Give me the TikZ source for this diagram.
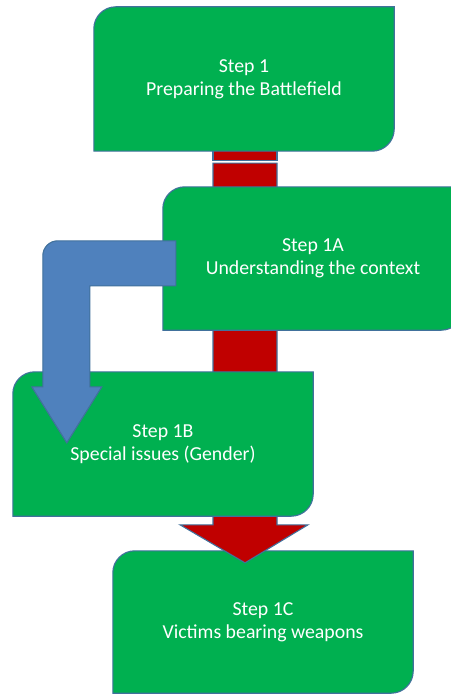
\documentclass[tikz,border=0pt]{standalone}
\usepackage{fontspec}
\setmainfont{Carlito}
\usetikzlibrary{calc}
\definecolor{boxgreen}{HTML}{00B050}
\definecolor{edgeblue}{HTML}{41719C}
\definecolor{arrowblue}{HTML}{4F81BD}
\definecolor{arrowred}{HTML}{C00000}
\pgfdeclarelayer{lA}
\pgfdeclarelayer{lB}
\pgfdeclarelayer{lC}
\pgfdeclarelayer{lD}
\pgfsetlayers{lA,lB,lC,lD,main}
\tikzset{
  stepbox/.style={minimum width=300pt, inner sep=0pt, text=white, align=center,
    font=\fontsize{19.8}{23}\selectfont},
  boxshape/.style={fill=boxgreen, draw=edgeblue, line width=1.1pt},
  redarr/.style={fill=arrowred, draw=edgeblue, line width=1.1pt, line join=miter},
  bluearr/.style={fill=arrowblue, draw=edgeblue, line width=1.1pt, line join=miter},
}
\newcommand\diagbox[1]{%
  \draw[boxshape] ([yshift=-22pt]#1.north west) arc[start angle=180,end angle=90,radius=22pt]
    -- (#1.north east) -- ([yshift=22pt]#1.south east) arc[start angle=0,end angle=-90,radius=22pt]
    -- (#1.south west) -- cycle;}
\newcommand\steplabel[1]{\raisebox{-2pt}{\begin{tabular}{@{}c@{}}#1\end{tabular}}}
\begin{document}
\begin{tikzpicture}[x=1pt,y=1pt]
\useasboundingbox (0,0) rectangle (450,-695);
\clip (0,0) rectangle (450,-695);
\node[stepbox, minimum height=144pt] (s1) at (244,-79) {\steplabel{Step 1\\Preparing the Battlefield}};
\node[stepbox, minimum height=143pt] (s1A) at (313,-258.5) {\steplabel{Step 1A\\Understanding the context}};
\node[stepbox, minimum height=144pt] (s1B) at (163,-444) {\steplabel{Step 1B\\Special issues (Gender)}};
\node[stepbox, minimum height=142pt] (s1C) at (263,-622) {\steplabel{Step 1C\\Victims bearing weapons}};
\begin{pgfonlayer}{lA}
  \diagbox{s1C}
\end{pgfonlayer}
\begin{pgfonlayer}{lB}
  \draw[redarr] let \p1=(s1.south) in (\x1-31pt,\y1+5pt) rectangle (\x1+33pt,\y1-9pt);
  \draw[redarr] let \p1=(s1.south), \p2=(s1C.north) in
    (\x1-31pt,\y1-12pt) -- (\x1+33pt,\y1-12pt) -- (\x1+33pt,\y2+26pt) -- (\x1+64pt,\y2+26pt)
    -- (\x1+1pt,\y2-12pt) -- (\x1-64pt,\y2+26pt) -- (\x1-31pt,\y2+26pt) -- cycle;
\end{pgfonlayer}
\begin{pgfonlayer}{lC}
  \diagbox{s1}
  \diagbox{s1A}
  \diagbox{s1B}
\end{pgfonlayer}
\begin{pgfonlayer}{lD}
  \draw[bluearr] let \p1=(s1A.north west), \p2=(s1B.north west) in
    (\x1+13pt,\y1-54pt) -- (\x2+45pt,\y1-54pt) arc[start angle=90,end angle=180,radius=15pt]
    -- (\x2+30pt,\y2-15pt) -- (\x2+19pt,\y2-15pt) -- (\x2+54pt,\y2-71pt) -- (\x2+89pt,\y2-15pt)
    -- (\x2+77pt,\y2-15pt) -- (\x2+77pt,\y1-99pt) -- (\x1+13pt,\y1-99pt) -- cycle;
\end{pgfonlayer}
\end{tikzpicture}
\end{document}
